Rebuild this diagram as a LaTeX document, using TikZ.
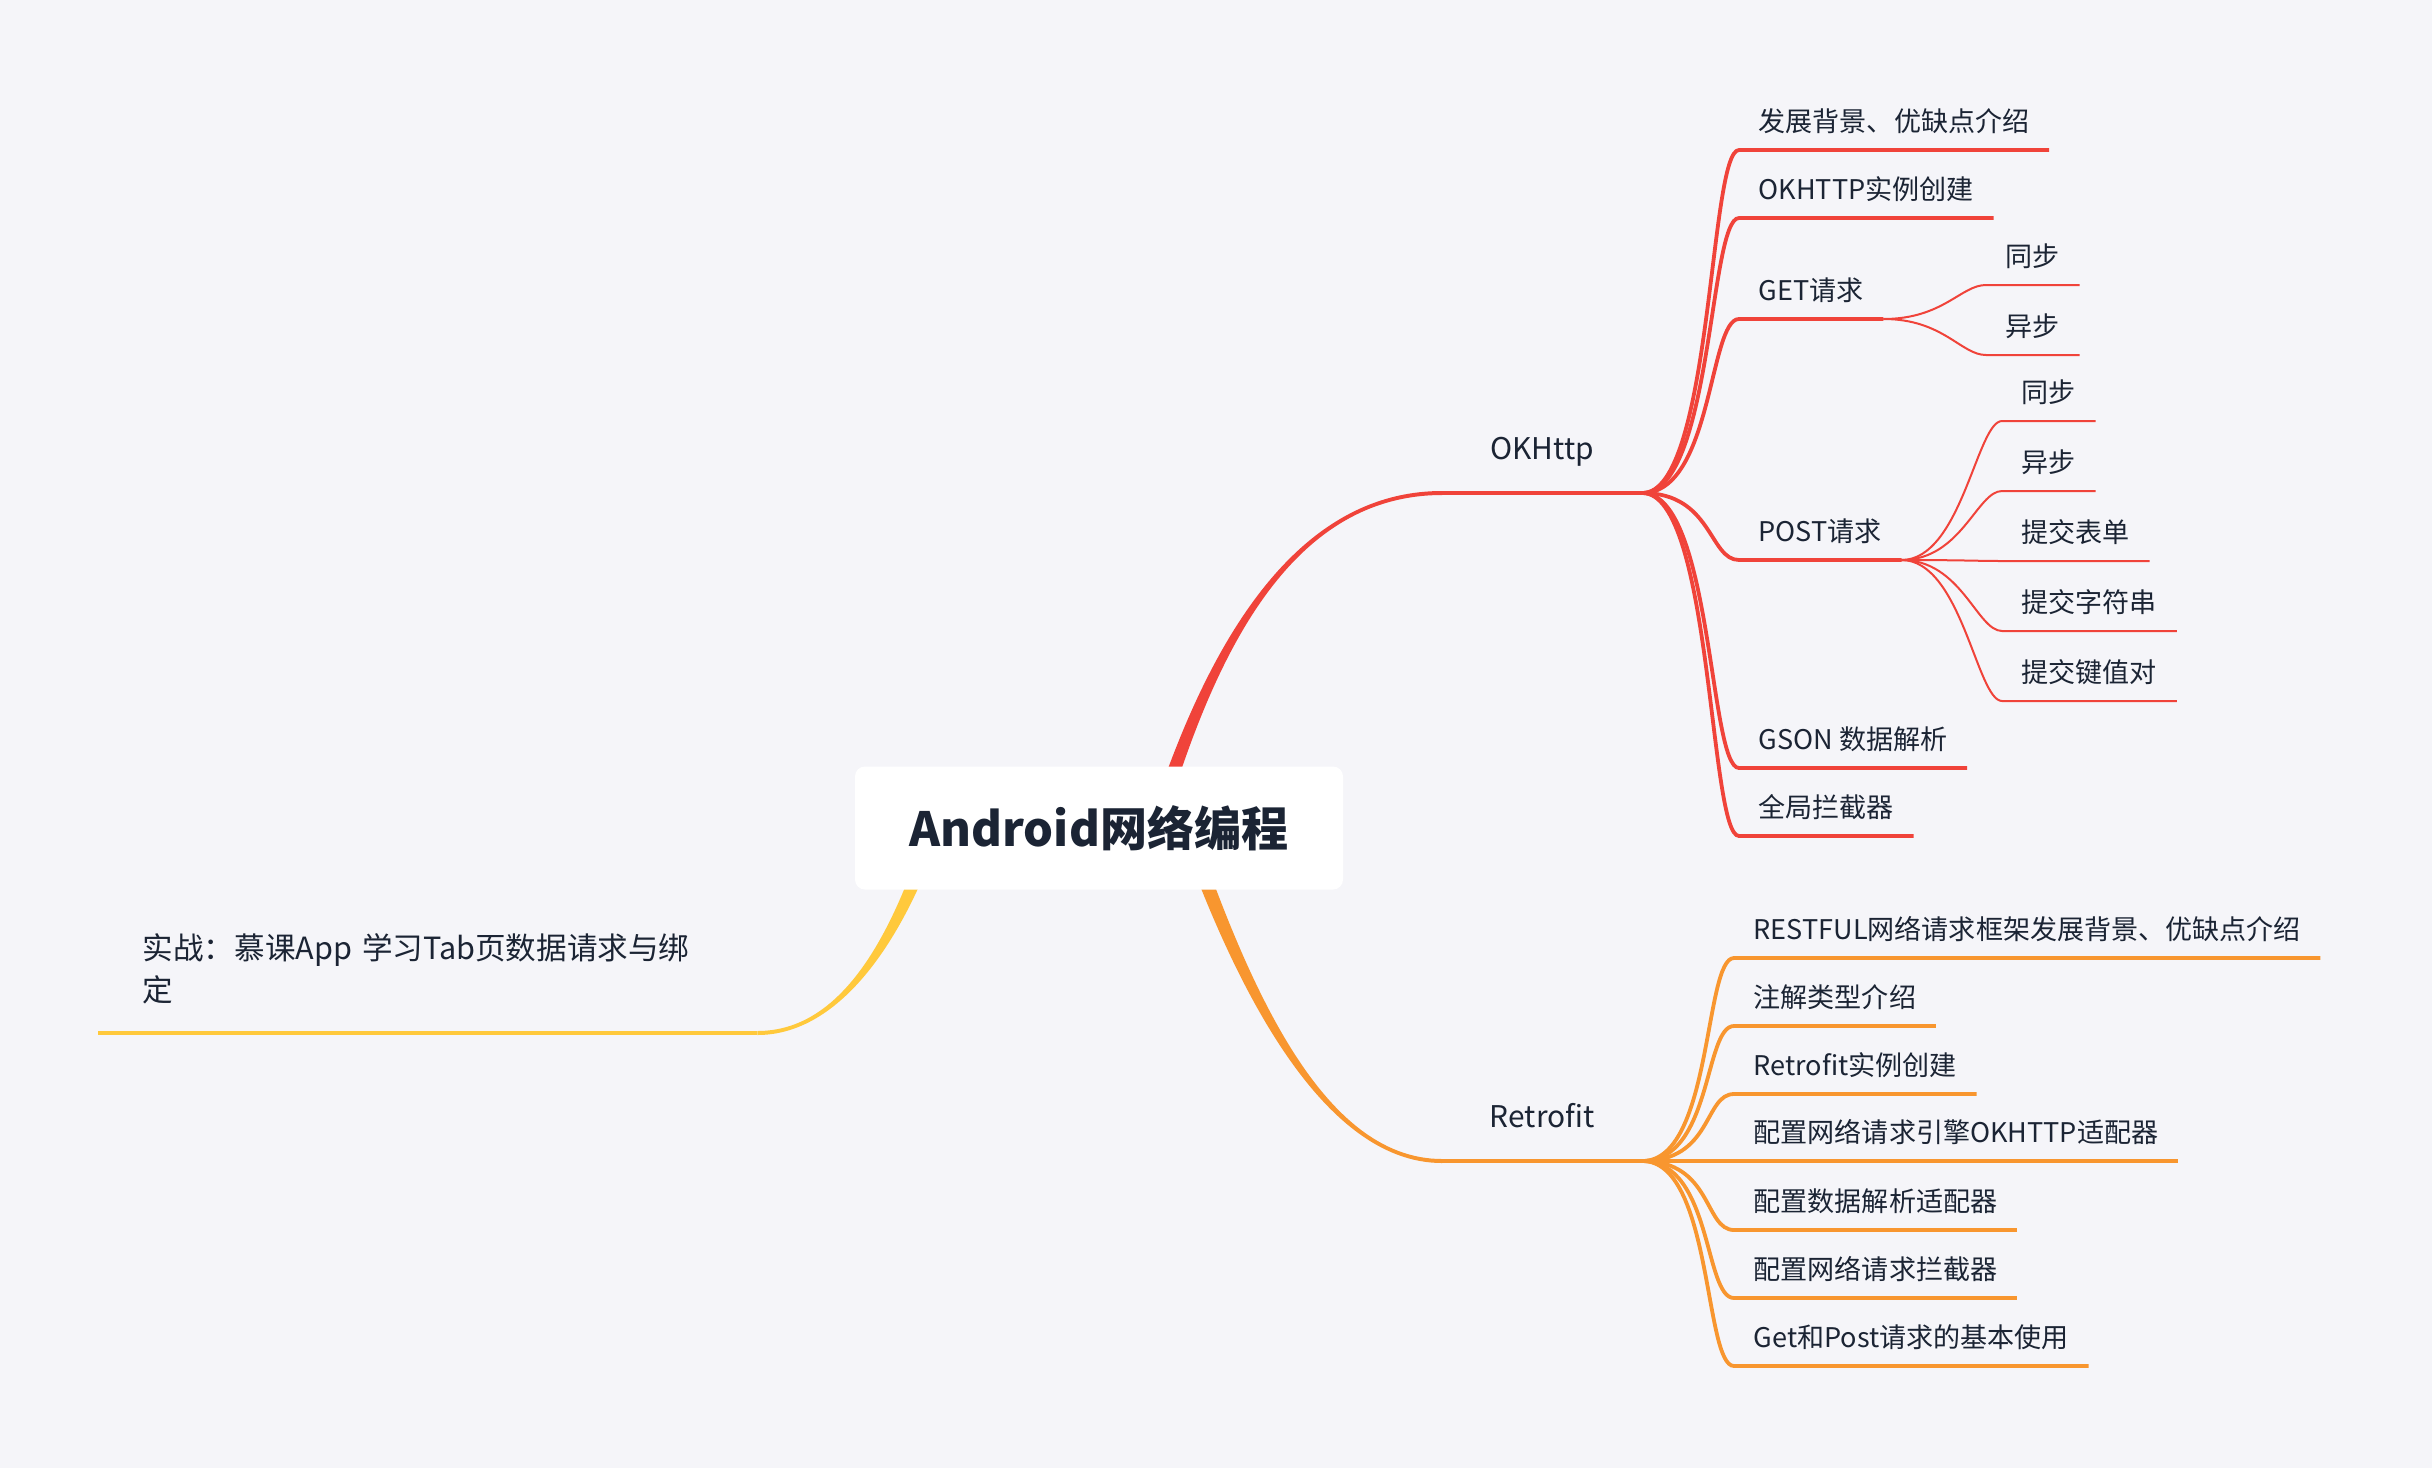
\documentclass[tikz,border=0pt]{standalone}
\usepackage{fontspec}
\setmainfont{Noto Sans CJK SC}
\usepackage{xcolor}
\usepackage{tikz}

\definecolor{bgc}{HTML}{F5F5F9}
\definecolor{okc}{HTML}{F0433A}
\definecolor{rfc}{HTML}{F8962F}
\definecolor{prc}{HTML}{FFC93C}
\definecolor{txt}{HTML}{1B2434}

\pgfdeclarelayer{back}
\pgfsetlayers{back,main}

\tikzset{
	root/.style={fill=white, rounded corners=1mm, minimum width=48.8mm, minimum height=12.3mm, text=txt, font=\fontsize{13.4pt}{16pt}\selectfont\bfseries},
	topic/.style={anchor=south west, text=txt, font=\fontsize{8.5pt}{10pt}\selectfont, text height=2.2mm, text depth=0.8mm, inner xsep=4.3mm, inner ysep=2.5mm, minimum width=19.9mm},
	practice/.style={anchor=south west, align=left, text width=57mm, text=txt, font=\fontsize{8.7pt}{12pt}\selectfont, text depth=5.03mm, inner xsep=4.4mm, inner ysep=2.3mm},
	leaf/.style={anchor=south west, text=txt, font=\fontsize{7.7pt}{9pt}\selectfont, text height=2.1mm, text depth=0.6mm, inner xsep=1.9mm, inner ysep=1.15mm},
	okline/.style={draw=okc, line width=0.38mm},
	okthin/.style={draw=okc, line width=0.2mm},
	rfline/.style={draw=rfc, line width=0.38mm},
}

\begin{document}
\begin{tikzpicture}[x=0.1mm, y=-0.1mm]
	\begin{pgfonlayer}{back}
		\fill[bgc] (0,0) rectangle (2432,1468);
	\end{pgfonlayer}

	\node[root] (root) at (1099,828) {Android网络编程};

	\node[topic] (okhttp) at (1442,493) {OKHttp};
	\node[topic] (retro) at (1442,1161) {Retrofit};
	\node[practice] (prac) at (98,1033) {实战：慕课App 学习Tab页数据请求与绑\\定};

	\begin{pgfonlayer}{back}
		\fill[okc] (root.center) -- (1132,880) .. controls (1183,700) and (1270,491) .. ([yshift=0.2mm]okhttp.south west) -- ([yshift=-0.2mm]okhttp.south west) .. controls (1270,495) and (1197,700) .. (1148,880) -- cycle;
		\fill[rfc] (root.center) -- (1162,780) .. controls (1227,980) and (1320,1163) .. ([yshift=-0.2mm]retro.south west) -- ([yshift=0.2mm]retro.south west) .. controls (1320,1159) and (1243,980) .. (1178,780) -- cycle;
		\fill[prc] (root.center) -- (948,810) .. controls (907,940) and (840,1035) .. ([yshift=-0.2mm]prac.south east) -- ([yshift=0.2mm]prac.south east) .. controls (840,1031) and (893,940) .. (932,810) -- cycle;
	\end{pgfonlayer}

	\draw[okc, line width=0.4mm] (okhttp.south west) -- (okhttp.south east);
	\draw[rfc, line width=0.4mm] (retro.south west) -- (retro.south east);
	\draw[prc, line width=0.4mm] (prac.south west) -- (prac.south east);

	\node[leaf] (bg) at (1739,150) {发展背景、优缺点介绍};
	\node[leaf] (inst) at (1739,218) {OKHTTP实例创建};
	\node[leaf] (get) at (1739,319) {GET请求};
	\node[leaf] (post) at (1739,560) {POST请求};
	\node[leaf] (gson) at (1739,768) {GSON 数据解析};
	\node[leaf] (icpt) at (1739,836) {全局拦截器};

	\draw[okline] (okhttp.south east) .. controls +(70,0) and +(-30,0) .. (bg.south west) -- (bg.south east);
	\draw[okline] (okhttp.south east) .. controls +(70,0) and +(-30,0) .. (inst.south west) -- (inst.south east);
	\draw[okline] (okhttp.south east) .. controls +(70,0) and +(-30,0) .. (get.south west) -- (get.south east);
	\draw[okline] (okhttp.south east) .. controls +(70,0) and +(-30,0) .. (post.south west) -- (post.south east);
	\draw[okline] (okhttp.south east) .. controls +(70,0) and +(-30,0) .. (gson.south west) -- (gson.south east);
	\draw[okline] (okhttp.south east) .. controls +(70,0) and +(-30,0) .. (icpt.south west) -- (icpt.south east);

	\node[leaf] (gsync) at (1986,285) {同步};
	\node[leaf] (gasync) at (1986,355) {异步};

	\draw[okthin] (get.south east) .. controls +(60,0) and +(-25,0) .. (gsync.south west) -- (gsync.south east);
	\draw[okthin] (get.south east) .. controls +(60,0) and +(-25,0) .. (gasync.south west) -- (gasync.south east);

	\node[leaf] (psync) at (2002,421) {同步};
	\node[leaf] (pasync) at (2002,491) {异步};
	\node[leaf] (form) at (2002,561) {提交表单};
	\node[leaf] (str) at (2002,631) {提交字符串};
	\node[leaf] (kv) at (2002,701) {提交键值对};

	\draw[okthin] (post.south east) .. controls +(60,0) and +(-25,0) .. (psync.south west) -- (psync.south east);
	\draw[okthin] (post.south east) .. controls +(60,0) and +(-25,0) .. (pasync.south west) -- (pasync.south east);
	\draw[okthin] (post.south east) .. controls +(60,0) and +(-25,0) .. (form.south west) -- (form.south east);
	\draw[okthin] (post.south east) .. controls +(60,0) and +(-25,0) .. (str.south west) -- (str.south east);
	\draw[okthin] (post.south east) .. controls +(60,0) and +(-25,0) .. (kv.south west) -- (kv.south east);

	\node[leaf] (rest) at (1734,958) {RESTFUL网络请求框架发展背景、优缺点介绍};
	\node[leaf] (anno) at (1734,1026) {注解类型介绍};
	\node[leaf] (rinst) at (1734,1094) {Retrofit实例创建};
	\node[leaf] (eng) at (1734,1161) {配置网络请求引擎OKHTTP适配器};
	\node[leaf] (conv) at (1734,1230) {配置数据解析适配器};
	\node[leaf] (ricpt) at (1734,1298) {配置网络请求拦截器};
	\node[leaf] (use) at (1734,1366) {Get和Post请求的基本使用};

	\draw[rfline] (retro.south east) .. controls +(70,0) and +(-30,0) .. (rest.south west) -- (rest.south east);
	\draw[rfline] (retro.south east) .. controls +(70,0) and +(-30,0) .. (anno.south west) -- (anno.south east);
	\draw[rfline] (retro.south east) .. controls +(70,0) and +(-30,0) .. (rinst.south west) -- (rinst.south east);
	\draw[rfline] (retro.south east) -- (eng.south west) -- (eng.south east);
	\draw[rfline] (retro.south east) .. controls +(70,0) and +(-30,0) .. (conv.south west) -- (conv.south east);
	\draw[rfline] (retro.south east) .. controls +(70,0) and +(-30,0) .. (ricpt.south west) -- (ricpt.south east);
	\draw[rfline] (retro.south east) .. controls +(70,0) and +(-30,0) .. (use.south west) -- (use.south east);
\end{tikzpicture}
\end{document}
